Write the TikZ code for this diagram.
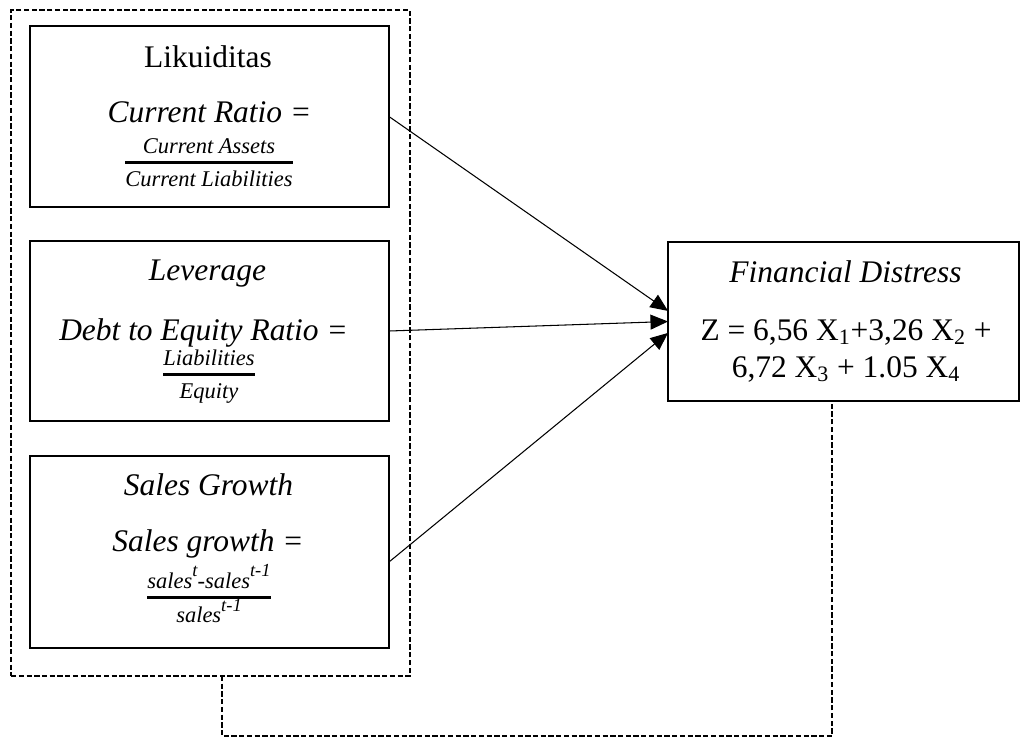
\documentclass[tikz,border=0pt]{standalone}
\usepackage{fontspec}
\setmainfont{Liberation Serif}
\usetikzlibrary{arrows.meta}
\newcommand{\bigtxt}{\fontsize{17.9}{21.5}\selectfont}
\newcommand{\smalltxt}{\fontsize{12.8}{15.4}\selectfont}
\newcommand{\ratiofrac}[2]{{\setlength{\arrayrulewidth}{1.6pt}%
\begin{tabular}[t]{@{}c@{}}#1\\\hline\rule{0pt}{13pt}#2\end{tabular}}}
\newcommand{\supt}[1]{\raisebox{0.5em}{\fontsize{10.5}{12}\selectfont #1}}
\tikzset{
	varbox/.style={draw, line width=0.7pt, inner sep=0pt, outer sep=0pt, minimum width=7.18cm},
	groupbox/.style={draw, line width=0.85pt, dash pattern=on 3pt off 1.4pt, inner sep=0pt, outer sep=0pt},
	grouplink/.style={line width=0.85pt, dash pattern=on 3pt off 1.4pt},
	title/.style={anchor=base, inner sep=0pt, font=\bigtxt},
	ratio/.style={anchor=base, inner sep=0pt, font=\smalltxt\itshape},
	link/.style={-{Triangle[length=10pt,width=8.5pt]}, line width=0.6pt}
}
\begin{document}
\begin{tikzpicture}[x=0.02cm, y=-0.02cm]
\useasboundingbox (0,0) rectangle (1021,738);
% independent variables
\node[groupbox, minimum width=7.98cm, minimum height=13.32cm] (grp) at (210.5,343) {};
\node[varbox, minimum height=3.62cm] (liq) at (209.5,116.5) {};
\node[varbox, minimum height=3.6cm] (lev) at (209.5,331) {};
\node[varbox, minimum height=3.84cm] (sg) at (209.5,552) {};
\node[title] (liqname) at (208,67) {Likuiditas};
\node[title] (liqeq) at (209.5,122) {\itshape Current Ratio =};
\node[ratio] (liqfrac) at (209,153) {\ratiofrac{Current Assets}{Current Liabilities}};
\node[title] (levname) at (207.5,280) {\itshape Leverage};
\node[title] (leveq) at (203.5,340) {\itshape Debt to Equity Ratio =};
\node[ratio] (levfrac) at (209,365) {\ratiofrac{Liabilities}{Equity}};
\node[title] (sgname) at (208.5,495) {\itshape Sales Growth};
\node[title] (sgeq) at (208,551) {\itshape Sales growth =};
\node[ratio] (sgfrac) at (209,588) {\ratiofrac{sales\supt{t}-sales\supt{t-1}}{sales\supt{t-1}}};
% dependent variable
\node[varbox, minimum width=7.02cm, minimum height=3.18cm] (fd) at (843.5,321.5) {};
\node[title] (fdname) at (845.5,282) {\itshape Financial Distress};
\node[title] (fdeq) at (846,340) {Z = 6,56 X\textsubscript{1}+3,26 X\textsubscript{2} +};
\node[title] (fdeqb) at (846,377) {6,72 X\textsubscript{3} + 1.05 X\textsubscript{4}};
% arrows
\draw[link] (liq.east) -- ([yshift=6pt]fd.west);
\draw[link] (lev.east) -- (fd.west);
\draw[link] ([yshift=-5.7pt]sg.east) -- ([yshift=-6.5pt]fd.west);
\draw[grouplink] ([xshift=6.5pt]grp.south) -- ++(0,60) -| ([xshift=-6.5pt]fd.south);
\end{tikzpicture}
\end{document}
